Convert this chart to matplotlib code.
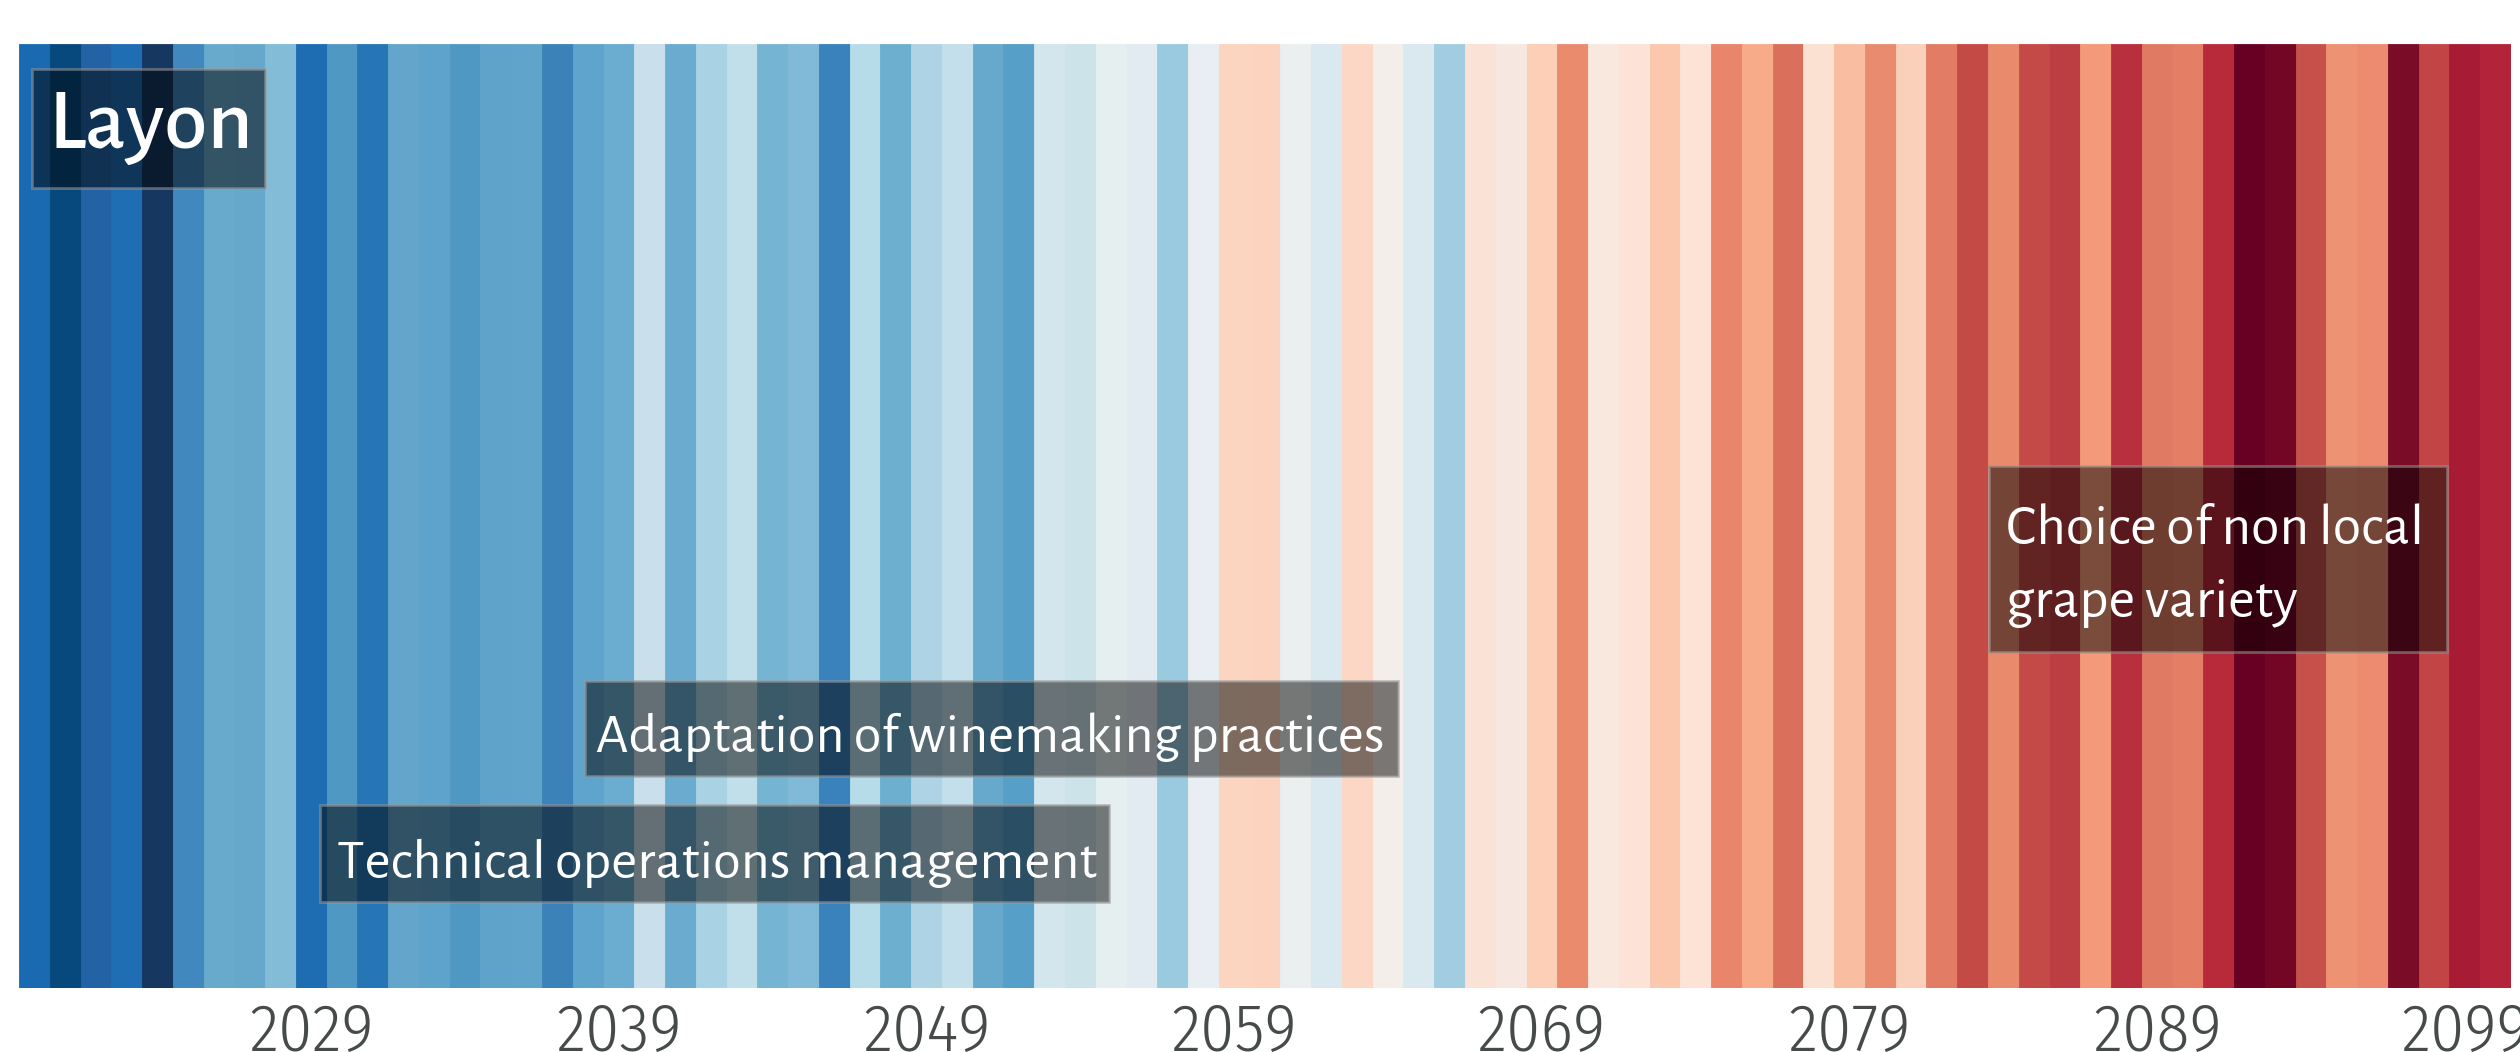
import matplotlib
matplotlib.use("Agg")
import matplotlib.pyplot as plt
from matplotlib import font_manager
from matplotlib.font_manager import FontProperties
from matplotlib.patches import Rectangle

# Années et couleurs des bandes (anomalies de température, palette RdBu)
years = list(range(2020, 2101))
stripe_colors = [
    '#1a6ab1', '#08497d', '#2363a5', '#1f6db3', '#163760', '#4088be', '#68aacc', '#65a8cb', '#82bcd7', '#1e6db2',
    '#4e98c3', '#2676b6', '#64a6cb', '#5ea3cb', '#4f98c3', '#5fa3cb', '#60a4cc', '#3b82b9', '#5ea4cc', '#6badd0',
    '#c9dfeb', '#6aabcf', '#a9d3e5', '#c1dfea', '#75b4d3', '#81bad8', '#3a82bb', '#b6dbe9', '#6cafcf', '#aed3e5',
    '#c2dfeb', '#67a9cd', '#569fc9', '#d3e6ed', '#cce3ea', '#e6eff0', '#e2eaf2', '#99cadf', '#e8eef2', '#fcd5c0',
    '#fcd3be', '#ebeff0', '#dae8ef', '#fdd7c5', '#f4eeea', '#dae8ef', '#a2cde1', '#fbe2d7', '#f6e8e1', '#fccfb7',
    '#ea8b6e', '#f8e8de', '#fce2d7', '#fbc7ad', '#fce3d6', '#e8856a', '#f8ab89', '#da705b', '#fbe1d2', '#f9bea1',
    '#e98b6e', '#fad0bb', '#e27c65', '#c44a46', '#e98a6d', '#c34a46', '#bd3e42', '#f59a79', '#b82f3e', '#e07a62',
    '#e47f66', '#b82a3a', '#670022', '#730625', '#c6514b', '#ed9273', '#ec8b6f', '#7a0c27', '#c24444', '#a81b35',
    '#b3243a',
]
tick_years = [2029, 2039, 2049, 2059, 2069, 2079, 2089, 2099]

title = 'Layon'
annotations = [
    'Technical operations management',
    'Adaptation of winemaking practices',
    'Choice of non local',
    'grape variety',
]


def font_file(name, fallback):
    for f in font_manager.fontManager.ttflist:
        if f.fname.endswith('/' + name):
            return FontProperties(fname=f.fname)
    return FontProperties(family=fallback)


fp_title = font_file('AlegreyaSans-Medium.ttf', 'Lato')
fp_note = font_file('AlegreyaSans-Regular.ttf', 'Lato')
fp_tick = font_file('FiraSansCondensed-Light.ttf', 'Liberation Sans Narrow')

fig = plt.figure(figsize=(25.2, 10.52), dpi=100)
ax = fig.add_axes([19 / 2520, 1 - 988 / 1052, 2492 / 2520, 944 / 1052])

ax.bar(years, 1, width=1, bottom=0, color=stripe_colors, edgecolor=stripe_colors, linewidth=0.6)
ax.set_xlim(years[0] - 0.5, years[-1] + 0.5)
ax.set_ylim(0, 1)

for s in ax.spines.values():
    s.set_visible(False)
ax.set_yticks([])
ax.set_xticks(tick_years)
ax.set_xticklabels([str(y) for y in tick_years])
ax.tick_params(axis='x', length=0, pad=9, colors='#464a4a')
for lab in ax.get_xticklabels():
    lab.set_fontproperties(fp_tick)
    lab.set_fontsize(49)


def label_box(x0, x1, y0, y1):
    ax.add_patch(Rectangle((x0, y0), x1 - x0, y1 - y0, facecolor=(0, 0, 0, 0.5),
                           edgecolor=(0.6, 0.6, 0.6, 0.55), linewidth=2, zorder=3))


def note(x, y, s, fp, size):
    ax.text(x, y, s, fontproperties=fp, fontsize=size, color='white',
            ha='left', va='baseline', zorder=4)


# Titre
label_box(2019.92, 2027.49, 0.8475, 0.9735)
note(2020.45, 0.8898, title, fp_title, 63)

# Mesures d'adaptation
label_box(2029.28, 2054.92, 0.0911, 0.1939)
note(2029.83, 0.1165, annotations[0], fp_note, 40.5)

label_box(2037.89, 2064.32, 0.2246, 0.3252)
note(2038.25, 0.2500, annotations[1], fp_note, 40.5)

label_box(2083.52, 2098.41, 0.3559, 0.5530)
note(2084.1, 0.4703, annotations[2], fp_note, 41.5)
note(2084.1, 0.3930, annotations[3], fp_note, 41.5)

fig.savefig('out.png', dpi=100)
